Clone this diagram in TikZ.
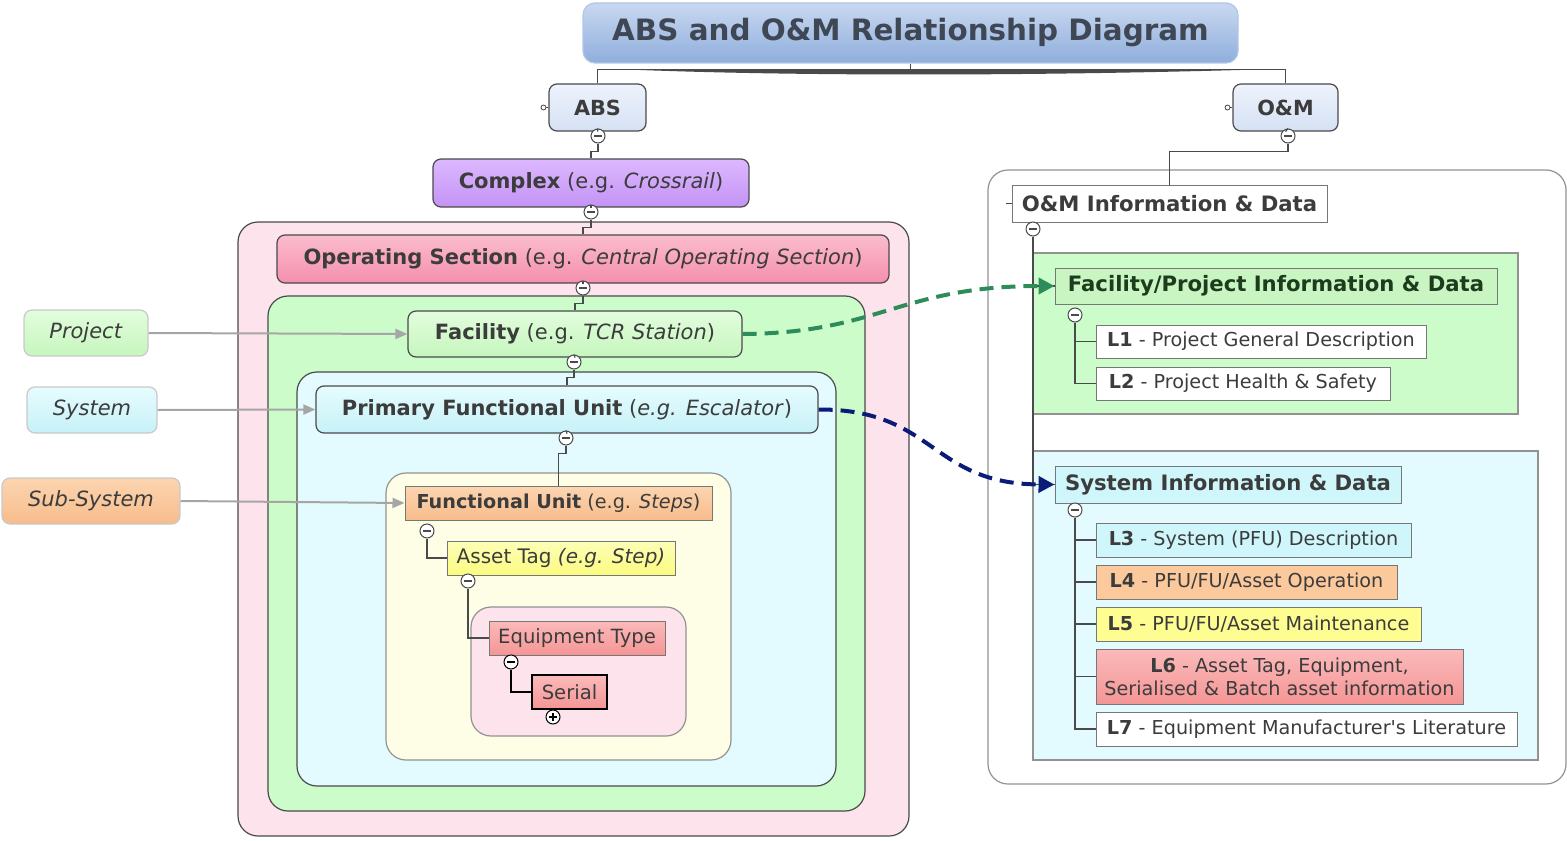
\documentclass[tikz,border=0pt]{standalone}
\usepackage{fontspec}
\setmainfont{DejaVu Sans}
\usetikzlibrary{arrows.meta}
\usetikzlibrary{calc}

\definecolor{edge}{HTML}{4A4A4A}
\definecolor{ink}{HTML}{3C3C3C}
\definecolor{titletop}{HTML}{C9D8F0}
\definecolor{titlebot}{HTML}{8FAEDC}
\definecolor{titleink}{HTML}{3F4755}
\definecolor{bluetop}{HTML}{EEF3FC}
\definecolor{bluebot}{HTML}{D5E1F4}
\definecolor{purpletop}{HTML}{DDB8FF}
\definecolor{purplebot}{HTML}{C393F5}
\definecolor{rosetop}{HTML}{FBBCCD}
\definecolor{rosebot}{HTML}{F48FAE}
\definecolor{pinkzone}{HTML}{FDE4EC}
\definecolor{greenzone}{HTML}{CCFCCA}
\definecolor{greentop}{HTML}{E2FDDD}
\definecolor{greenbot}{HTML}{C6F6BE}
\definecolor{bluezone}{HTML}{E3FBFE}
\definecolor{cyantop}{HTML}{E6FCFE}
\definecolor{cyanbot}{HTML}{C6F1F8}
\definecolor{yellowzone}{HTML}{FEFEE6}
\definecolor{orangetop}{HTML}{FCD5B0}
\definecolor{orangebot}{HTML}{F7BC8C}
\definecolor{yellowtop}{HTML}{FEFEB8}
\definecolor{yellowbot}{HTML}{FBFB80}
\definecolor{redtop}{HTML}{FBBABA}
\definecolor{redbot}{HTML}{F59595}
\definecolor{greenleaf}{HTML}{C9F5C2}
\definecolor{cyanleaf}{HTML}{CFF6FB}
\definecolor{orangeleaf}{HTML}{FBC99C}
\definecolor{yellowleaf}{HTML}{FDFD92}
\definecolor{redleaf}{HTML}{F8A3A3}
\definecolor{linkgreen}{HTML}{2E8B5A}
\definecolor{linknavy}{HTML}{0B1C78}

\begin{document}
\begin{tikzpicture}[x=0.5pt,y=-0.5pt,text=ink,font=\fontsize{10.5}{12.5}\selectfont]
    \tikzstyle{box}=[draw=edge,rounded corners=4pt,inner sep=0pt,line width=0.6pt]
    \tikzstyle{leaf}=[draw=edge!75,inner sep=0pt,line width=0.5pt,font=\fontsize{9.6}{11.4}\selectfont]
    \tikzstyle{zone}=[draw=edge,rounded corners=10pt,line width=0.6pt]
    \tikzstyle{tree}=[draw=edge,line width=0.6pt]
    \tikzstyle{fold}=[circle,draw=edge,fill=white,minimum size=7pt,inner sep=0pt,line width=0.5pt,
        path picture={\draw[line width=0.7pt] ([xshift=-2pt]path picture bounding box.center) -- ([xshift=2pt]path picture bounding box.center);}]
    \tikzstyle{unfold}=[circle,draw=black,fill=white,minimum size=7pt,inner sep=0pt,line width=0.5pt,
        path picture={\draw[line width=0.7pt] ([xshift=-2pt]path picture bounding box.center) -- ([xshift=2pt]path picture bounding box.center);
                      \draw[line width=0.7pt] ([yshift=-2pt]path picture bounding box.center) -- ([yshift=2pt]path picture bounding box.center);}]
    \tikzstyle{hook}=[circle,draw=edge,fill=white,minimum size=2.5pt,inner sep=0pt,line width=0.4pt]
    \tikzstyle{feed}=[draw=gray!70,line width=1pt,-{Triangle[length=6pt,width=5pt,fill=gray!70]}]
    \tikzstyle{link}=[dash pattern=on 7pt off 4pt,line width=2pt,-{Triangle[length=8pt,width=8pt]}]
    \tikzstyle{head}=[font=\fontsize{10.6}{12.5}\selectfont\bfseries]

    \useasboundingbox (0,0) rectangle (1567,840);

    % nested zones
    \draw[zone,fill=pinkzone] (238,222) rectangle (909,836);
    \draw[zone,fill=greenzone] (268,296) rectangle (865,811);
    \draw[zone,fill=bluezone] (297,372) rectangle (836,786);
    \draw[zone,draw=edge!60,fill=yellowzone] (386,473) rectangle (731,760);
    \draw[zone,draw=edge!60,fill=pinkzone] (471,607) rectangle (686,736);
    \draw[zone,draw=edge!60] (988,170) rectangle (1566,784);
    \draw[tree,draw=edge!60,fill=greenzone] (1033,253) rectangle (1518,414);
    \draw[tree,draw=edge!60,fill=bluezone] (1033,451) rectangle (1538,760);

    % top
    \node[box,rounded corners=6pt,draw=titlebot!70,top color=titletop,bottom color=titlebot,minimum width=327.5pt,minimum height=30pt,
          text=titleink,font=\fontsize{14.7}{17}\selectfont\bfseries] (title) at (910.5,33) {ABS and O\&M Relationship Diagram};
    \node[box,top color=bluetop,bottom color=bluebot,minimum width=48.5pt,minimum height=23.5pt,font=\fontsize{10.4}{12}\selectfont\bfseries] (abs) at (597.5,107.5) {ABS};
    \node[box,top color=bluetop,bottom color=bluebot,minimum width=52.5pt,minimum height=23.5pt,font=\fontsize{10.4}{12}\selectfont\bfseries] (om) at (1285.5,107.5) {O\&M};
    \draw[tree] (abs.north) -- ++(0,-14) -| (om.north);
    \draw[tree] (title.south) -- ++(0,7);
    \fill[edge] (640,70) .. controls (800,76) and (1020,76) .. (1240,70) -- cycle;
    \draw[tree] (abs.west) -- ++(-2,0) node[hook,anchor=east] (abshook) {};
    \draw[tree] (om.west) -- ++(-2,0) node[hook,anchor=east] (omhook) {};
    \node[fold] (absfold) at (598,136) {};
    \node[fold] (omfold) at (1288,136) {};
    \draw[tree] (abs.south) -- (absfold.north);
    \draw[tree] (om.south) -- (omfold.north);

    % ABS side
    \node[box,top color=purpletop,bottom color=purplebot,minimum width=158pt,minimum height=24pt] (complex) at (591,183) {\textbf{Complex} (e.g. \textit{Crossrail})};
    \draw[tree] (absfold.south) -- ++(0,8) -| (complex.north);
    \node[fold] (cxfold) at (591,212) {};
    \draw[tree] (complex.south) -- (cxfold.north);

    \node[box,top color=rosetop,bottom color=rosebot,minimum width=306pt,minimum height=24pt] (opsec) at (583,259) {\textbf{Operating Section} (e.g. \textit{Central Operating Section})};
    \draw[tree] (cxfold.south) -- ++(0,8) -| (opsec.north);
    \node[fold] (osfold) at (583,288) {};
    \draw[tree] (opsec.south) -- (osfold.north);

    \node[box,top color=greentop,bottom color=greenbot,minimum width=167pt,minimum height=23pt] (facility) at (575,334) {\textbf{Facility} (e.g. \textit{TCR Station})};
    \draw[tree] (osfold.south) -- ++(0,8) -| (facility.north);
    \node[fold] (facfold) at (574,362) {};
    \draw[tree] (facility.south) -- (facfold.north);

    \node[box,top color=cyantop,bottom color=cyanbot,minimum width=251pt,minimum height=23.5pt] (pfu) at (567,409.5) {\textbf{Primary Functional Unit} (\textit{e.g. Escalator})};
    \draw[tree] (facfold.south) -- ++(0,8) -| (pfu.north);
    \node[fold] (pfufold) at (566,438) {};
    \draw[tree] (pfu.south) -- (pfufold.north);

    \node[leaf,top color=orangetop,bottom color=orangebot,minimum width=153.5pt,minimum height=17pt] (fu) at (558.5,503) {\textbf{Functional Unit} (e.g. \textit{Steps})};
    \draw[tree] (pfufold.south) -- ++(0,8) -| (fu.north);
    \node[fold] (fufold) at (427,531) {};
    \node[leaf,top color=yellowtop,bottom color=yellowbot,minimum width=114pt,minimum height=17pt,font=\fontsize{10}{12}\selectfont] (tag) at (561,558) {Asset Tag \textit{(e.g. Step)}};
    \draw[tree] (fufold.south) |- (tag.west);
    \node[fold] (tagfold) at (468,581) {};
    \node[leaf,top color=redtop,bottom color=redbot,minimum width=88pt,minimum height=17pt,font=\fontsize{9.8}{12}\selectfont] (eqtype) at (577,638) {Equipment Type};
    \draw[tree] (tagfold.south) |- (eqtype.west);
    \node[fold,draw=black] (eqfold) at (511,662) {};
    \node[leaf,draw=black,line width=1pt,top color=redtop,bottom color=redbot,minimum width=37.5pt,minimum height=17pt,font=\fontsize{9.8}{12}\selectfont] (serial) at (569.5,692) {Serial};
    \draw[tree,draw=black,line width=0.8pt] (eqfold.south) |- (serial.west);
    \node[unfold] (serfold) at (553,717) {};

    % feeds from the left
    \node[box,draw=edge!30,top color=greentop,bottom color=greenbot,minimum width=62pt,minimum height=23pt] (project) at (86,333) {\textit{Project}};
    \node[box,draw=edge!30,top color=cyantop,bottom color=cyanbot,minimum width=65pt,minimum height=23pt] (system) at (92,410) {\textit{System}};
    \node[box,draw=edge!30,top color=orangetop,bottom color=orangebot,minimum width=89pt,minimum height=23pt] (subsystem) at (91,501) {\textit{Sub-System}};
    \draw[feed] (project.east) -- (facility.west);
    \draw[feed] (system.east) -- (pfu.west);
    \draw[feed] (subsystem.east) -- (fu.west);

    % O&M side
    \node[leaf,head,fill=white,minimum width=157.5pt,minimum height=18.5pt] (ominfo) at (1169.5,203.5) {O\&M Information \& Data};
    \draw[tree] (omfold.south) -- ++(0,8) -| (ominfo.north);
    \draw[tree] (ominfo.west) -- ++(-6,0);
    \node[fold] (oifold) at (1033,229) {};
    \node[leaf,head,fill=greenleaf,minimum width=221pt,minimum height=18pt,text=ink!80!green!60!black] (facinfo) at (1276,286) {Facility/Project Information \& Data};
    \node[leaf,head,fill=cyanleaf,minimum width=173pt,minimum height=18.5pt] (sysinfo) at (1228,484.5) {System Information \& Data};
    \draw[tree] (oifold.south) |- (facinfo.west);
    \draw[tree] (oifold.south) |- (sysinfo.west);

    \node[fold] (fifold) at (1075,315) {};
    \node[leaf,fill=white,minimum width=165pt,minimum height=16.5pt] (l1) at (1261,341.5) {\textbf{L1} - Project General Description};
    \node[leaf,fill=white,minimum width=147pt,minimum height=16.5pt] (l2) at (1243,383.5) {\textbf{L2} - Project Health \& Safety};
    \foreach \n in {l1,l2}
        \draw[tree] (fifold.south) |- (\n.west);

    \node[fold] (sifold) at (1075,510) {};
    \node[leaf,fill=cyanleaf,minimum width=157.5pt,minimum height=17pt] (l3) at (1253.5,540) {\textbf{L3} - System (PFU) Description};
    \node[leaf,fill=orangeleaf,minimum width=150.5pt,minimum height=17pt] (l4) at (1246.5,582) {\textbf{L4} - PFU/FU/Asset Operation};
    \node[leaf,fill=yellowleaf,minimum width=162.5pt,minimum height=17pt] (l5) at (1258.5,624) {\textbf{L5} - PFU/FU/Asset Maintenance};
    \node[leaf,top color=redtop,bottom color=redbot,minimum width=183.5pt,minimum height=27.5pt,align=center] (l6) at (1279.5,676.5) {\textbf{L6} - Asset Tag, Equipment,\\Serialised \& Batch asset information};
    \node[leaf,fill=white,minimum width=210.5pt,minimum height=17pt] (l7) at (1306.5,729) {\textbf{L7} - Equipment Manufacturer\textquotesingle s Literature};
    \foreach \n in {l3,l4,l5,l6,l7}
        \draw[tree] (sifold.south) |- (\n.west);

    % links between the two sides
    \draw[link,linkgreen] (facility.east) .. controls (880,333) and (900,286) .. (facinfo.west);
    \draw[link,linknavy] (pfu.east) .. controls (935,409) and (930,484) .. (sysinfo.west);
\end{tikzpicture}
\end{document}
